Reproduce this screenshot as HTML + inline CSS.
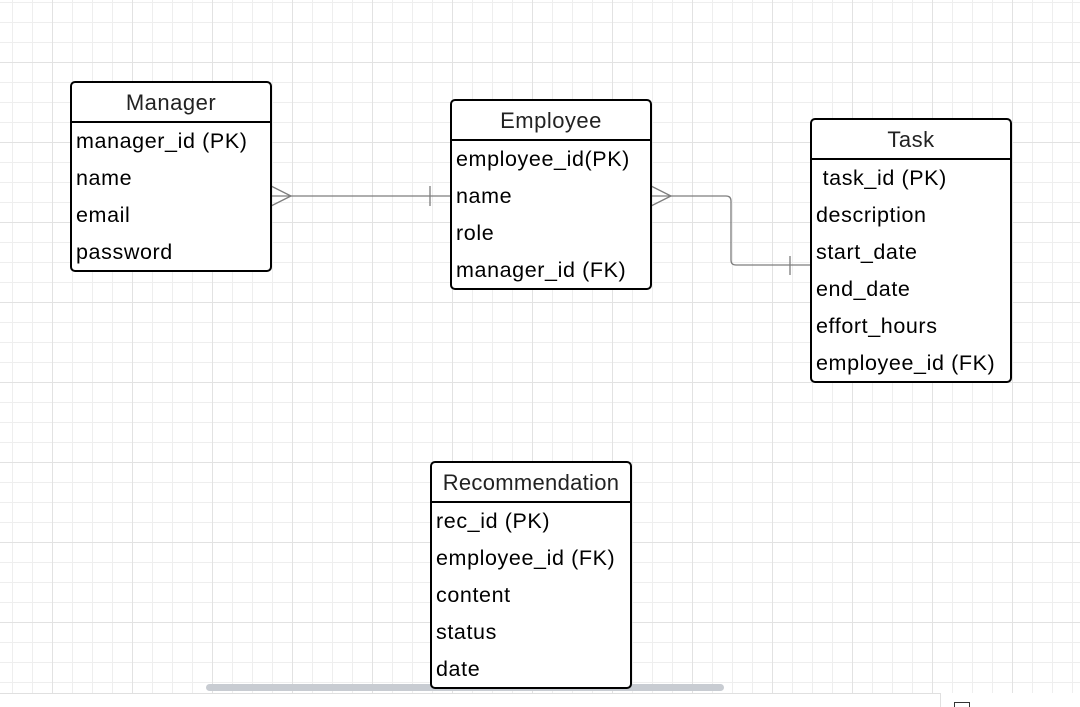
<!DOCTYPE html>
<html><head><meta charset="utf-8"><style>
html,body{margin:0;padding:0;width:1080px;height:707px;overflow:hidden;background:#fff;}
body{position:relative;font-family:"Liberation Sans",Arial,sans-serif;
background-image:
linear-gradient(to right,#e2e2e2 1px,transparent 1px),
linear-gradient(to bottom,#e2e2e2 1px,transparent 1px),
linear-gradient(to right,#eeeeee 1px,transparent 1px),
linear-gradient(to bottom,#eeeeee 1px,transparent 1px);
background-size:80px 80px,80px 80px,20px 20px,20px 20px;
background-position:52px 0,0 62px,12px 0,0 2px;}
.box{position:absolute;width:198px;border:2px solid #000;border-radius:5px;background:#fff;box-sizing:content-box;z-index:2;}
.hd{height:38px;border-bottom:2px solid #000;text-align:center;font-size:22px;letter-spacing:0.5px;line-height:40px;color:#222;}
.row{height:37px;line-height:37px;font-size:21.5px;letter-spacing:0.6px;padding-left:4px;color:#000;white-space:nowrap;}
</style></head><body>
<svg width="1080" height="707" style="position:absolute;left:0;top:0" fill="none" stroke="#7d7d7d" stroke-width="1.3">
<path d="M271 196 H451"/>
<path d="M271 186 L291 196 L271 206"/>
<path d="M430 186 V206"/>
<path d="M651 196 H726 Q731 196 731 201 V260 Q731 265 736 265 H811"/>
<path d="M651 186 L671 196 L651 206"/>
<path d="M790 256 V275"/>
</svg>
<div class="box" style="left:70px;top:81px;height:187px">
<div class="hd">Manager</div>
<div class="row">manager_id (PK)</div><div class="row">name</div><div class="row">email</div><div class="row">password</div>
</div>
<div class="box" style="left:450px;top:99px;height:187px">
<div class="hd">Employee</div>
<div class="row">employee_id(PK)</div><div class="row">name</div><div class="row">role</div><div class="row">manager_id (FK)</div>
</div>
<div class="box" style="left:810px;top:118px;height:261px">
<div class="hd">Task</div>
<div class="row">&nbsp;task_id (PK)</div><div class="row">description</div><div class="row">start_date</div><div class="row">end_date</div><div class="row">effort_hours</div><div class="row">employee_id (FK)</div>
</div>
<div class="box" style="left:430px;top:461px;height:224px">
<div class="hd" style="letter-spacing:0.3px">Recommendation</div>
<div class="row">rec_id (PK)</div><div class="row">employee_id (FK)</div><div class="row">content</div><div class="row">status</div><div class="row">date</div>
</div>
<div style="position:absolute;left:206px;top:684px;width:518px;height:7px;border-radius:4px;background:#c8ccd2;z-index:1"></div>
<div style="position:absolute;left:0;top:693px;width:1080px;height:14px;background:#fff;border-top:1px solid #e0e0e0;z-index:3"></div>
<div style="position:absolute;left:940px;top:693px;width:140px;height:14px;border-left:1px solid #e0e0e0;background:#fff;z-index:3"></div>
<div style="position:absolute;left:954px;top:702px;width:14px;height:5px;border:1px solid #333;border-bottom:none;z-index:4"></div>
</body></html>
